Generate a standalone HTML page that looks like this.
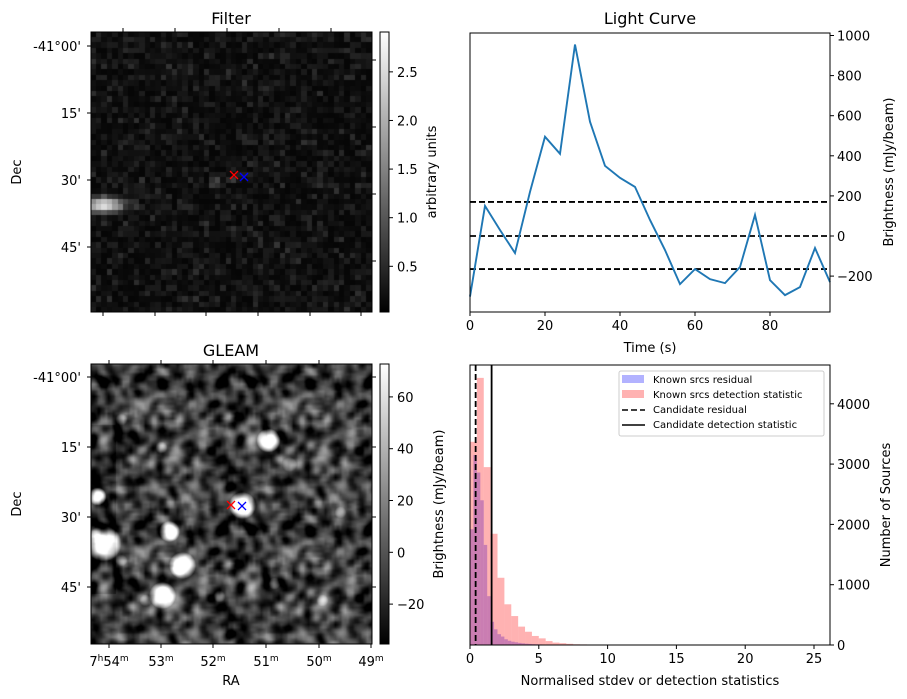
<!DOCTYPE html>
<html><head><meta charset="utf-8"><style>
body{margin:0;background:#fff;width:907px;height:699px;overflow:hidden;position:relative;font-family:"DejaVu Sans","Liberation Sans",sans-serif}
canvas{position:absolute}
svg{position:absolute;left:0;top:0}
</style></head><body>
<canvas id="filt" width="281" height="280" style="left:91px;top:32px"></canvas>
<canvas id="gleam" width="281" height="280" style="left:91px;top:364px"></canvas>
<svg id="s" width="907" height="699" font-family="DejaVu Sans, Liberation Sans, sans-serif" font-size="13">
<defs>
<linearGradient id="cb" x1="0" y1="1" x2="0" y2="0"><stop offset="0" stop-color="#000"/><stop offset="1" stop-color="#fff"/></linearGradient>
</defs>
<g id="static"></g>
</svg>
<script>
// ---- Light curve data ----
const lcTimes=[0,4,8,12,16,20,24,28,32,36,40,44,48,52,56,60,64,68,72,76,80,84,88,92,96];
const lcValues=[-302,150,30,-85,220,495,410,955,570,350,290,245,80,-70,-240,-165,-215,-235,-155,105,-220,-295,-255,-60,-230];
const lcThresholds=[170,0,-165];
const lcXTicks=[0,20,40,60,80];
const lcYTicks=[-200,0,200,400,600,800,1000];
// ---- Histogram data ----
const redCounts=[3370,4430,2950,1845,1115,675,480,305,220,150,110,65,40,30,20,12,10,8,8,6,6,5,5,5,4,4,0,0,0,6,5,5,5,0,0,0,5,0,5,0,0,5,0,0,0,0,0,0,0,5,0];
const blueCounts=[1920,3150,2860,2400,1660,810,385,260,180,140,95,70,55,45,35,28,22,18,14,12,10,8,7,6,5,5,4,4,3,3,3,2,2,2,2,2,0,2,0,2];
const candidateResidual=0.41;
const candidateDetection=1.57;
const histXTicks=[0,5,10,15,20,25];
const histYTicks=[0,1000,2000,3000,4000];
const filtCbTicks=[0.5,1.0,1.5,2.0,2.5];
const gleamCbTicks=[-20,0,20,40,60];

const NS='http://www.w3.org/2000/svg';
const root=document.getElementById('static');
function mk(tag,attrs,parent,txt){const e=document.createElementNS(NS,tag);for(const k in attrs)e.setAttribute(k,attrs[k]);if(txt!==undefined)e.textContent=txt;(parent||root).appendChild(e);return e;}

const xL=t=>470+t/96*360, yL=v=>236-v*0.2005;
const xH=v=>470+v*13.76, yH=c=>645-c*0.0603;
const yCbF=v=>32+(2.91-v)/(2.91-0.03)*280;
const yCbG=v=>364+(72.7-v)/(72.7+35.4)*280;

// ---- Light curve ----
let g=mk('g',{});
mk('text',{x:650,y:24,'text-anchor':'middle','font-size':16},g,'Light Curve');
lcThresholds.forEach(v=>{const l=mk('line',{x1:470,x2:830,y1:yL(v),y2:yL(v),stroke:'#000','stroke-width':1.8,'stroke-dasharray':'6,3'},g);});
let pl=mk('polyline',{points:lcTimes.map((t,i)=>xL(t)+','+yL(lcValues[i])).join(' '),fill:'none',stroke:'#1f77b4','stroke-width':1.9},g);

mk('rect',{x:470,y:33,width:360,height:279,fill:'none',stroke:'#000','stroke-width':1},g);
lcXTicks.forEach(t=>{mk('line',{x1:xL(t),x2:xL(t),y1:312,y2:316,stroke:'#000'},g);mk('text',{x:xL(t),y:330,'text-anchor':'middle'},g,t);});
lcYTicks.forEach(v=>{mk('line',{x1:830,x2:834,y1:yL(v),y2:yL(v),stroke:'#000'},g);mk('text',{x:837,y:yL(v)+5},g,v<0?'\u2212'+(-v):v);});
mk('text',{x:650,y:352,'text-anchor':'middle'},g,'Time (s)');
mk('text',{x:0,y:0,'text-anchor':'middle',transform:'translate(893,172) rotate(-90)'},g,'Brightness (mJy/beam)');

// ---- Histogram ----
g=mk('g',{});
blueCounts.forEach((c,i)=>{if(!c)return;const r=mk('rect',{x:xH(i*0.25),y:yH(c),width:xH(0.25)-xH(0),height:645-yH(c),fill:'rgba(0,0,255,0.3)'},g);});
redCounts.forEach((c,i)=>{if(!c)return;const r=mk('rect',{x:xH(i*0.5),y:yH(c),width:xH(0.5)-xH(0),height:645-yH(c),fill:'rgba(255,0,0,0.3)'},g);});
let cl=mk('line',{x1:xH(candidateResidual),x2:xH(candidateResidual),y1:365,y2:645,stroke:'#000','stroke-width':1.8,'stroke-dasharray':'6,3'},g);
cl=mk('line',{x1:xH(candidateDetection),x2:xH(candidateDetection),y1:365,y2:645,stroke:'#000','stroke-width':1.8},g);
mk('rect',{x:470,y:365,width:360,height:280,fill:'none',stroke:'#000'},g);
histXTicks.forEach(t=>{mk('line',{x1:xH(t),x2:xH(t),y1:645,y2:649,stroke:'#000'},g);mk('text',{x:xH(t),y:663,'text-anchor':'middle'},g,t);});
histYTicks.forEach(v=>{mk('line',{x1:830,x2:834,y1:yH(v),y2:yH(v),stroke:'#000'},g);mk('text',{x:837,y:yH(v)+5},g,v);});
mk('text',{x:650,y:685,'text-anchor':'middle'},g,'Normalised stdev or detection statistics');
mk('text',{x:0,y:0,'text-anchor':'middle',transform:'translate(890,505) rotate(-90)'},g,'Number of Sources');
let lg=mk('g',{'font-size':10},g);
mk('rect',{x:619,y:371,width:205,height:65,fill:'#fff','fill-opacity':0.8,stroke:'#ccc',rx:2},lg);
mk('rect',{x:622,y:375,width:22,height:8,fill:'rgba(0,0,255,0.3)'},lg);
mk('rect',{x:622,y:390,width:22,height:8,fill:'rgba(255,0,0,0.3)'},lg);
mk('line',{x1:622,x2:645,y1:410,y2:410,stroke:'#000','stroke-width':1.6,'stroke-dasharray':'6,3'},lg);
mk('line',{x1:622,x2:645,y1:425,y2:425,stroke:'#000','stroke-width':1.6},lg);
['Known srcs residual','Known srcs detection statistic','Candidate residual','Candidate detection statistic'].forEach((t,i)=>{const e=mk('text',{x:653,y:383+i*15},lg,t);});

// ---- Image panels ----
function imagePanel(top,title,decTicks,raTicks,raLabels,cbTicks,yCb,cbLabel,cbLabelX,topTicks,bottomLabels){
  const p=mk('g',{});
  mk('text',{x:231,y:top-8,'text-anchor':'middle','font-size':16},p,title);
  mk('rect',{x:91,y:top,width:281,height:280,fill:'none',stroke:'#000'},p);
  decTicks.forEach((d,i)=>{const y=top+d;const off=(title==='Filter'?14:0);mk('line',{x1:87,x2:91,y1:y,y2:y,stroke:'#000'},p);mk('line',{x1:372,x2:376,y1:y+off,y2:y+off,stroke:'#000'},p);mk('text',{x:81,y:y+5,'text-anchor':'end'},p,['-41°00\'','15\'','30\'','45\''][i]);});
  topTicks.forEach(x=>mk('line',{x1:x,x2:x,y1:top-4,y2:top,stroke:'#000'},p));
  raTicks.forEach((x,i)=>{mk('line',{x1:x,x2:x,y1:top+280,y2:top+284,stroke:'#000'},p);
    if(bottomLabels){const t=mk('text',{x:x,y:top+302,'text-anchor':'middle'},p);
      const lb=raLabels[i];if(lb.h){mk('tspan',{},t,'7');mk('tspan',{'font-size':9,dy:-5},t,'h');mk('tspan',{dy:5},t,lb.m);}else{mk('tspan',{},t,lb.m);}mk('tspan',{'font-size':9,dy:-5},t,'m');}});
  mk('text',{x:0,y:0,'text-anchor':'middle',transform:`translate(21,${top+140}) rotate(-90)`},p,'Dec');
  mk('rect',{x:380,y:top,width:9,height:280,fill:'url(#cb)',stroke:'#000'},p);
  cbTicks.forEach(v=>{const y=yCb(v);mk('line',{x1:389,x2:393,y1:y,y2:y,stroke:'#000'},p);mk('text',{x:397,y:y+5},p,v<0?'\u2212'+(-v):(Number.isInteger(v)&&title==='Filter'?v.toFixed(1):v));});
  mk('text',{x:0,y:0,'text-anchor':'middle',transform:`translate(${cbLabelX},${top+140}) rotate(-90)`},p,cbLabel);
  return p;
}
imagePanel(32,'Filter',[14,81,148,215],[103,155,206,258,310,361],[],filtCbTicks,yCbF,'arbitrary units',436,[123,175,227,279,331],false);
const gp=imagePanel(364,'GLEAM',[13,83,153,223],[109,161,213,266,319,371],[{h:1,m:'54'},{m:'53'},{m:'52'},{m:'51'},{m:'50'},{m:'49'}],gleamCbTicks,yCbG,'Brightness (mJy/beam)',443,[109,161,213,266,319],true);
mk('text',{x:231,y:685,'text-anchor':'middle'},gp,'RA');
function cross(x,y,c,name){const gg=mk('g',{stroke:c,'stroke-width':1.3});mk('line',{x1:x-4,y1:y-4,x2:x+4,y2:y+4},gg);mk('line',{x1:x-4,y1:y+4,x2:x+4,y2:y-4},gg);}
cross(234,175,'red','filter-marker-red');cross(244,177,'blue','filter-marker-blue');
cross(231,505,'red','gleam-marker-red');cross(242,506,'blue','gleam-marker-blue');

// ---- textures (deterministic noise) ----
function rng(s){return function(){s|=0;s=s+0x6D2B79F5|0;let t=Math.imul(s^s>>>15,1|s);t=t+Math.imul(t^t>>>7,61|t)^t;return((t^t>>>14)>>>0)/4294967296;}}
(function(){const c=document.getElementById('filt').getContext('2d');const r=rng(7);const N=52,ps=281/N;
 for(let j=0;j<N;j++)for(let i=0;i<N;i++){let v=6+r()*r()*48;
  const d=Math.pow((i-2)/3.2,2)+Math.pow((j-31.6)/1.3,2);v+=230*Math.exp(-d);
  if(Math.abs(i-22.5)<1&&Math.abs(j-27.5)<1)v+=40;if(Math.abs(i-25.5)<1&&Math.abs(j-27)<1)v+=35;
  v=Math.min(255,v);c.fillStyle=`rgb(${v|0},${v|0},${v|0})`;c.fillRect(Math.floor(i*ps),Math.floor(j*ps),Math.ceil(ps)+1,Math.ceil(ps)+1);}
})();
(function(){const cv=document.getElementById('gleam');const c=cv.getContext('2d');const W=281,H=280;const r=rng(11);
 const n=60;let f=[];for(let i=0;i<n*n;i++)f.push(r());
 for(let pass=0;pass<2;pass++){const g2=[];for(let y=0;y<n;y++)for(let x=0;x<n;x++){let s=0,k=0;for(let dy=-1;dy<=1;dy++)for(let dx=-1;dx<=1;dx++){const xx=(x+dx+n)%n,yy=(y+dy+n)%n;s+=f[yy*n+xx];k++;}g2.push(s/k);}f=g2;}
 const img=c.createImageData(W,H);
 const src=[[177,76,8,6],[6,132,6,6],[151,141,9,7],[78,167,7,6],[12,179,12,11],[91,201,9,9],[71,231,9,8],[30,55,4,4],[198,100,5,5],[231,236,4,4],[128,232,4,4],[183,219,4,4],[54,236,4,4],[30,196,4,4],[249,148,4,4],[70,83,4,4]];
 for(let y=0;y<H;y++)for(let x=0;x<W;x++){const fx=x/W*n*1.9,fy=y/H*n*1.9;const x0=Math.floor(fx),y0=Math.floor(fy),tx=fx-x0,ty=fy-y0;
  const a=(xx,yy)=>f[((yy%n)*n)+(xx%n)];let v=a(x0,y0)*(1-tx)*(1-ty)+a(x0+1,y0)*tx*(1-ty)+a(x0,y0+1)*(1-tx)*ty+a(x0+1,y0+1)*tx*ty;
  v=(v-0.5)*2.3*255+62;if(x<25&&y>60&&y<230)v-=25;
  for(const s of src){const d=Math.hypot(x-s[0],y-s[1]);const big=s[3]>5;v+=Math.max(0,(big?320:80)*(1-Math.pow(d/(s[2]*1.5),2)));}
  v=Math.max(0,Math.min(255,v));const o=(y*W+x)*4;img.data[o]=img.data[o+1]=img.data[o+2]=v;img.data[o+3]=255;}
 c.putImageData(img,0,0);
})();
</script>
</body></html>
